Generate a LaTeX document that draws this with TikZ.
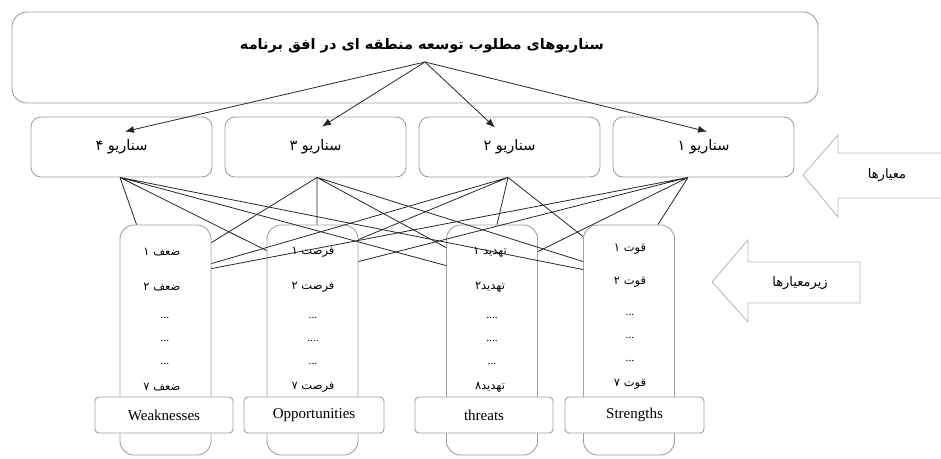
\documentclass[tikz,border=0pt]{standalone}
\usepackage{fontspec}
\setmainfont{Liberation Serif}
\newfontfamily\fa[Script=Arabic]{DejaVu Sans}
\TeXXeTstate=1
\usepackage{tikz}
\usetikzlibrary{positioning, arrows.meta, calc}
\newcommand{\fatext}[1]{{\fa\beginR #1\endR}}
\tikzset{
    box/.style={draw=gray!75, line width=0.9pt}, % grey frame of every box
    scen/.style={box, rounded corners=10pt, minimum width=181pt, minimum height=60pt, font=\fontsize{14.5}{17}\selectfont}, % scenario boxes
    crit/.style={box, rounded corners=14pt, minimum width=91pt, minimum height=230pt}, % tall boxes of sub-criteria
    tag/.style={box, fill=white, rounded corners=4pt, minimum height=36pt, font=\fontsize{15}{17}\selectfont}, % english names
    item/.style={font=\fontsize{11.5}{13}\selectfont}, % entries in the tall boxes
    link/.style={line width=0.8pt, black!85}, % connectors
    bigarrow/.style={draw=gray!55, line width=0.9pt}, % hollow arrows on the right
    node distance=194pt, % spacing of the scenario boxes
    >={Latex[length=9pt, width=7pt]},
}
\begin{document}
\begin{tikzpicture}[x=1pt, y=-1pt]
\useasboundingbox (0,0) rectangle (941,458);
% top box
\node[box, rounded corners=15pt, minimum width=806pt, minimum height=91pt] (goal) at (415,57.5) {};
\node[font=\fontsize{14.5}{18}\selectfont\bfseries] (title) at (422,46) {\fatext{سناریوهای مطلوب توسعه منطقه ای در افق برنامه}};
\coordinate (hub) at (425,62);
% scenarios
\node[scen] (sc4) at (121.5,147) {\fatext{سناریو ۴}};
\node[scen, right of=sc4] (sc3) {\fatext{سناریو ۳}};
\node[scen, right of=sc3] (sc2) {\fatext{سناریو ۲}};
\node[scen, right of=sc2] (sc1) {\fatext{سناریو ۱}};
\draw[->, link] (hub) -- ($(sc4.north)+(3.5,15)$);
\draw[->, link] (hub) -- ($(sc3.north)+(6.5,10)$);
\draw[->, link] (hub) -- ($(sc2.north)+(-14.5,11)$);
\draw[->, link] (hub) -- ($(sc1.north)+(3.5,15)$);
% sub-criteria boxes
\node[crit] (weak) at (165.5,340) {};
\node[crit] (opp) at (312.5,340) {};
\node[crit] (thr) at (492,340) {};
\node[crit] (str) at (629,340) {};
\node[item] (w1) at (162,252) {\fatext{ضعف ۱}};
\node[item] (w2) at (162,287) {\fatext{ضعف ۲}};
\node[item] (w3) at (165,318) {...};
\node[item] (w4) at (165,341) {...};
\node[item] (w5) at (165,364) {...};
\node[item] (w6) at (162,387) {\fatext{ضعف ۷}};
\node[item] (o1) at (313,252) {\fatext{فرصت ۱}};
\node[item] (o2) at (313,287) {\fatext{فرصت ۲}};
\node[item] (o3) at (313,318) {...};
\node[item] (o4) at (313,341) {....};
\node[item] (o5) at (313,364) {...};
\node[item] (o6) at (313,387) {\fatext{فرصت ۷}};
\node[item] (t1) at (490,252) {\fatext{تهدید ۱}};
\node[item] (t2) at (490,287) {\fatext{تهدید۲}};
\node[item] (t3) at (492,318) {....};
\node[item] (t4) at (492,341) {....};
\node[item] (t5) at (492,364) {...};
\node[item] (t6) at (490,387) {\fatext{تهدید۸}};
\node[item] (s1) at (630,249) {\fatext{قوت ۱}};
\node[item] (s2) at (630,282) {\fatext{قوت ۲}};
\node[item] (s3) at (630,315) {...};
\node[item] (s4) at (630,338) {...};
\node[item] (s5) at (630,361) {...};
\node[item] (s6) at (630,384) {\fatext{قوت ۷}};
\node[tag, minimum width=138pt] (weaktag) at (164,415) {Weaknesses};
\node[tag, minimum width=140pt] (opptag) at (314,415) {Opportunities};
\node[tag, minimum width=138pt] (thrtag) at (484,415) {threats};
\node[tag, minimum width=139pt] (strtag) at (634.5,415) {Strengths};
% connectors between the two rows
\coordinate (o4) at ($(sc4.south)+(-1.5,0)$);
\coordinate (o3) at ($(sc3.south)+(1.5,0)$);
\coordinate (o2) at ($(sc2.south)+(-1.5,0)$);
\coordinate (o1) at ($(sc1.south)+(-15.5,0)$);
\draw[link] (o4) -- ($(weak.north west)+(17,0)$)
    (o4) -- ($(opp.north west)+(0,26)$)
    (o4) -- ($(thr.north west)+(0,41)$)
    (o4) -- ($(str.north west)+(0,45)$);
\draw[link] (o3) -- ($(weak.north east)+(0,18)$)
    (o3) -- ($(opp.north)+(4.5,0)$)
    (o3) -- ($(thr.north west)+(0,23)$)
    (o3) -- ($(str.north west)+(0,37)$);
\draw[link] (o2) -- ($(weak.north east)+(0,39)$)
    (o2) -- ($(opp.north east)+(0,15)$)
    (o2) -- ($(thr.north)+(5,0)$)
    (o2) -- ($(str.north west)+(0,12)$);
\draw[link] (o1) -- ($(weak.north east)+(0,44)$)
    (o1) -- ($(opp.north east)+(0,37)$)
    (o1) -- ($(thr.north east)+(0,27)$)
    (o1) -- ($(str.north east)+(-17,0)$);
% hollow arrows
\draw[bigarrow] (941,153) -- (838,153) -- (838,135) -- (803,175) -- (838,217) -- (838,198) -- (941,198);
\node[font=\fontsize{13}{15}\selectfont] (critlabel) at (887,175) {\fatext{معیارها}};
\draw[bigarrow] (860,262) -- (748,262) -- (748,240) -- (712,282) -- (748,322) -- (748,303) -- (860,303) -- cycle;
\node[font=\fontsize{13}{15}\selectfont] (sublabel) at (800,283) {\fatext{زیرمعیارها}};
\end{tikzpicture}
\end{document}
